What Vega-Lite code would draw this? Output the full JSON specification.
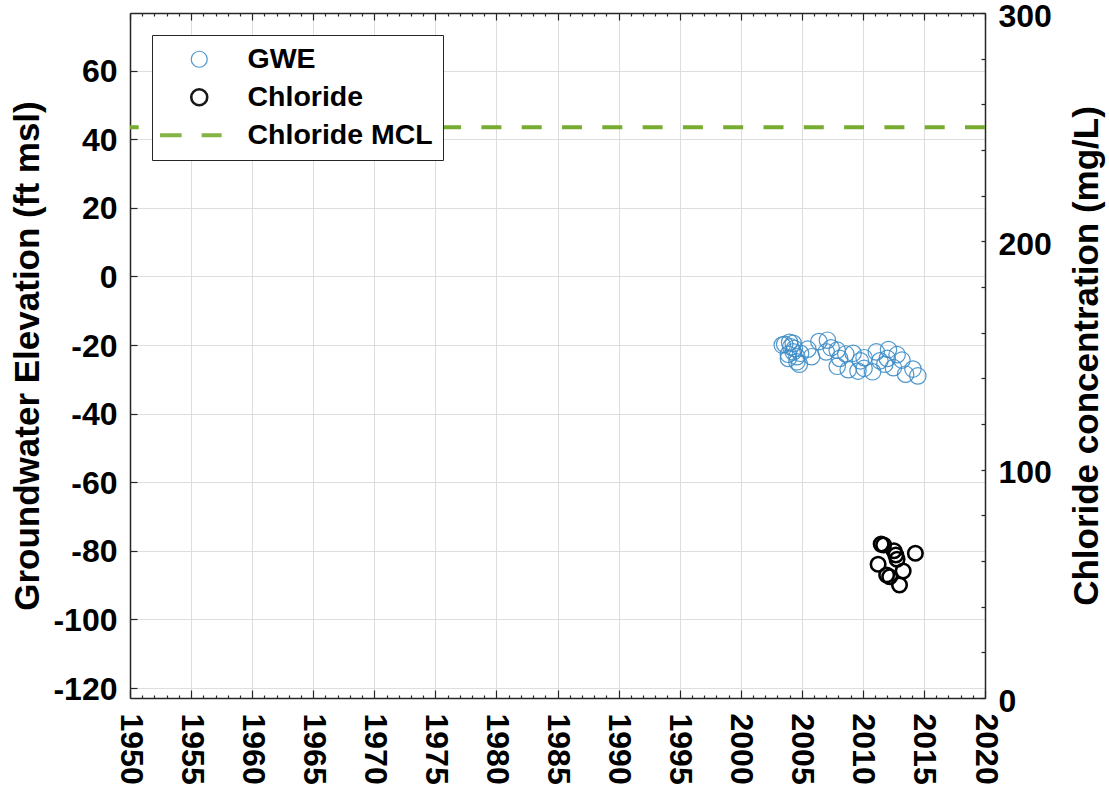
{
  "$schema": "https://vega.github.io/schema/vega-lite/v6.json",
  "width": 855,
  "height": 685,
  "autosize": {"type": "none"},
  "padding": {"left": 130, "top": 13, "right": 124, "bottom": 90},
  "background": "white",
  "config": {
    "font": "Liberation Sans",
    "view": {"stroke": null},
    "axis": {
      "labelFont": "Liberation Sans",
      "labelFontWeight": "bold",
      "labelFontSize": 32,
      "labelColor": "#000000",
      "titleFont": "Liberation Sans",
      "titleFontWeight": "bold",
      "titleFontSize": 35,
      "titleColor": "#000000",
      "domainColor": "#262626",
      "domainWidth": 1.5,
      "tickColor": "#262626",
      "tickWidth": 1.2,
      "gridColor": "#dedede",
      "gridWidth": 1
    }
  },
  "data": {
    "values": [
      {"series": "GWE", "date": 2003.4, "gwe": -20.0},
      {"series": "GWE", "date": 2003.6, "gwe": -19.8},
      {"series": "GWE", "date": 2003.9, "gwe": -22.7},
      {"series": "GWE", "date": 2003.9, "gwe": -23.9},
      {"series": "GWE", "date": 2004.0, "gwe": -19.2},
      {"series": "GWE", "date": 2004.1, "gwe": -20.5},
      {"series": "GWE", "date": 2004.3, "gwe": -19.5},
      {"series": "GWE", "date": 2004.3, "gwe": -22.0},
      {"series": "GWE", "date": 2004.4, "gwe": -21.0},
      {"series": "GWE", "date": 2004.6, "gwe": -23.4},
      {"series": "GWE", "date": 2004.6, "gwe": -24.9},
      {"series": "GWE", "date": 2004.8, "gwe": -25.6},
      {"series": "GWE", "date": 2004.9, "gwe": -22.4},
      {"series": "GWE", "date": 2005.5, "gwe": -21.2},
      {"series": "GWE", "date": 2005.8, "gwe": -23.4},
      {"series": "GWE", "date": 2006.4, "gwe": -19.0},
      {"series": "GWE", "date": 2007.0, "gwe": -22.0},
      {"series": "GWE", "date": 2007.1, "gwe": -18.6},
      {"series": "GWE", "date": 2007.4, "gwe": -20.8},
      {"series": "GWE", "date": 2007.9, "gwe": -21.5},
      {"series": "GWE", "date": 2007.9, "gwe": -26.2},
      {"series": "GWE", "date": 2008.1, "gwe": -23.9},
      {"series": "GWE", "date": 2008.6, "gwe": -22.6},
      {"series": "GWE", "date": 2008.8, "gwe": -27.2},
      {"series": "GWE", "date": 2009.2, "gwe": -22.4},
      {"series": "GWE", "date": 2009.6, "gwe": -27.6},
      {"series": "GWE", "date": 2009.8, "gwe": -24.6},
      {"series": "GWE", "date": 2010.1, "gwe": -23.7},
      {"series": "GWE", "date": 2010.1, "gwe": -26.8},
      {"series": "GWE", "date": 2010.8, "gwe": -27.8},
      {"series": "GWE", "date": 2011.1, "gwe": -22.0},
      {"series": "GWE", "date": 2011.4, "gwe": -24.6},
      {"series": "GWE", "date": 2011.8, "gwe": -25.6},
      {"series": "GWE", "date": 2012.1, "gwe": -21.3},
      {"series": "GWE", "date": 2012.0, "gwe": -23.9},
      {"series": "GWE", "date": 2012.5, "gwe": -26.6},
      {"series": "GWE", "date": 2012.8, "gwe": -22.8},
      {"series": "GWE", "date": 2013.2, "gwe": -24.4},
      {"series": "GWE", "date": 2013.5, "gwe": -28.5},
      {"series": "GWE", "date": 2014.1, "gwe": -27.0},
      {"series": "GWE", "date": 2014.5, "gwe": -29.0},
      {"series": "Chloride", "date": 2011.5, "chloride": 67.4},
      {"series": "Chloride", "date": 2011.7, "chloride": 67.0},
      {"series": "Chloride", "date": 2012.55, "chloride": 64.5},
      {"series": "Chloride", "date": 2012.7, "chloride": 62.6},
      {"series": "Chloride", "date": 2012.8, "chloride": 60.8},
      {"series": "Chloride", "date": 2014.3, "chloride": 63.4},
      {"series": "Chloride", "date": 2011.25, "chloride": 58.6},
      {"series": "Chloride", "date": 2011.95, "chloride": 53.9},
      {"series": "Chloride", "date": 2012.2, "chloride": 53.1},
      {"series": "Chloride", "date": 2013.3, "chloride": 55.6},
      {"series": "Chloride", "date": 2013.0, "chloride": 49.5},
      {"series": "Chloride MCL", "chloride": 250}
    ]
  },
  "layer": [
    {
      "transform": [{"filter": "datum.series === 'GWE'"}],
      "mark": {"type": "point", "filled": false, "size": 270, "opacity": 0.9},
      "encoding": {
        "x": {
          "field": "date",
          "type": "quantitative",
          "scale": {"domain": [1950, 2020], "nice": false, "zero": false},
          "axis": {
            "orient": "bottom",
            "title": null,
            "values": [1950,1951,1952,1953,1954,1955,1956,1957,1958,1959,1960,1961,1962,1963,1964,1965,1966,1967,1968,1969,1970,1971,1972,1973,1974,1975,1976,1977,1978,1979,1980,1981,1982,1983,1984,1985,1986,1987,1988,1989,1990,1991,1992,1993,1994,1995,1996,1997,1998,1999,2000,2001,2002,2003,2004,2005,2006,2007,2008,2009,2010,2011,2012,2013,2014,2015,2016,2017,2018,2019,2020],
            "labelExpr": "datum.value % 5 === 0 ? datum.value + '' : ''",
            "labelAngle": 90,
            "labelAlign": "left",
            "labelBaseline": "middle",
            "labelPadding": 23,
            "labelOverlap": false,
            "grid": true,
            "gridOpacity": {"condition": {"test": "datum.value % 5 === 0", "value": 1}, "value": 0},
            "tickSize": {"condition": {"test": "datum.value % 5 === 0", "value": -8}, "value": -3}
          }
        },
        "y": {
          "field": "gwe",
          "type": "quantitative",
          "scale": {"domain": [-122.9, 76.8], "nice": false, "zero": false},
          "axis": {
            "orient": "left",
            "title": "Groundwater Elevation (ft msl)",
            "values": [-120, -100, -80, -60, -40, -20, 0, 20, 40, 60],
            "labelExpr": "datum.value + ''",
            "grid": true,
            "tickSize": -7,
            "labelPadding": 20,
            "labelOffset": 1,
            "titlePadding": 7
          }
        },
        "color": {
          "field": "series",
          "type": "nominal",
          "scale": {"domain": ["GWE", "Chloride", "Chloride MCL"], "range": ["#3d8dc8", "#000000", "#77ac30"]},
          "legend": {
            "title": null,
            "orient": "top-left",
            "offset": 22,
            "padding": 10,
            "fillColor": "white",
            "strokeColor": "#262626",
            "labelFont": "Liberation Sans",
            "labelFontWeight": "bold",
            "labelFontSize": 28.5,
            "labelColor": "#000000",
            "labelLimit": 400,
            "symbolSize": 256,
            "symbolOffset": 23,
            "labelOffset": 34,
            "rowPadding": 9
          }
        },
        "shape": {
          "field": "series",
          "type": "nominal",
          "scale": {"domain": ["GWE", "Chloride", "Chloride MCL"], "range": ["circle", "circle", "M-4.9,0H-2.2M0.3,0H2.8"]}
        },
        "strokeWidth": {
          "field": "series",
          "type": "nominal",
          "scale": {"domain": ["GWE", "Chloride", "Chloride MCL"], "range": [1.2, 4]}
        }
      }
    },
    {
      "layer": [
        {
          "transform": [{"filter": "datum.series === 'Chloride MCL'"}],
          "mark": {"type": "rule", "strokeDash": [20, 20.3]},
          "encoding": {
            "y": {"field": "chloride", "type": "quantitative"},
            "color": {"field": "series", "type": "nominal"},
            "strokeWidth": {"field": "series", "type": "nominal"}
          }
        },
        {
          "transform": [{"filter": "datum.series === 'Chloride'"}],
          "mark": {"type": "point", "filled": false, "size": 210, "opacity": 1},
          "encoding": {
            "x": {
              "field": "date",
              "type": "quantitative",
              "axis": {
                "orient": "top",
                "title": null,
                "values": [1950,1951,1952,1953,1954,1955,1956,1957,1958,1959,1960,1961,1962,1963,1964,1965,1966,1967,1968,1969,1970,1971,1972,1973,1974,1975,1976,1977,1978,1979,1980,1981,1982,1983,1984,1985,1986,1987,1988,1989,1990,1991,1992,1993,1994,1995,1996,1997,1998,1999,2000,2001,2002,2003,2004,2005,2006,2007,2008,2009,2010,2011,2012,2013,2014,2015,2016,2017,2018,2019,2020],
                "labels": false,
                "grid": false,
                "tickSize": {"condition": {"test": "datum.value % 5 === 0", "value": -7}, "value": -3}
              }
            },
            "y": {
              "field": "chloride",
              "type": "quantitative",
              "scale": {"domain": [0, 300], "nice": false, "zero": false},
              "axis": {
                "orient": "right",
                "title": "Chloride concentration (mg/L)",
                "titleAngle": 270,
                "values": [0,10,20,30,40,50,60,70,80,90,100,110,120,130,140,150,160,170,180,190,200,210,220,230,240,250,260,270,280,290,300],
                "labelExpr": "datum.value % 50 === 0 ? datum.value + '' : ''",
                "labelOverlap": false,
                "grid": false,
                "tickSize": -4,
                "labelPadding": 17,
                "labelOffset": 3,
                "titlePadding": 53
              }
            },
            "color": {"field": "series", "type": "nominal"},
            "shape": {"field": "series", "type": "nominal"},
            "strokeWidth": {"field": "series", "type": "nominal"}
          }
        }
      ]
    }
  ],
  "resolve": {"scale": {"y": "independent"}, "axis": {"x": "independent"}}
}
